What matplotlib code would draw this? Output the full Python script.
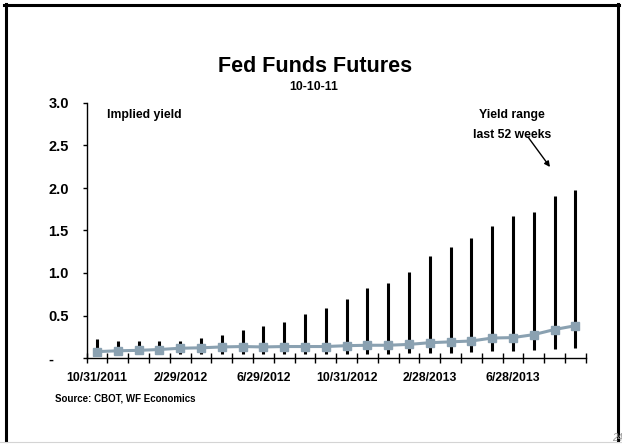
import numpy as np
import matplotlib
matplotlib.use('Agg')
import matplotlib.pyplot as plt
from matplotlib.lines import Line2D

# ── Dati ─────────────────────────────────────────────────────
dates = [
    "10/31/2011", "11/30/2011", "12/30/2011", "1/31/2012",
    "2/29/2012", "3/30/2012", "4/30/2012", "5/31/2012",
    "6/29/2012", "7/31/2012", "8/31/2012", "9/28/2012",
    "10/31/2012", "11/30/2012", "12/31/2012", "1/31/2013",
    "2/28/2013", "3/28/2013", "4/30/2013", "5/31/2013",
    "6/28/2013", "7/31/2013", "8/30/2013", "9/30/2013",
]
implied_yield = [0.075, 0.085, 0.09, 0.10, 0.115, 0.12, 0.13, 0.135,
                 0.13, 0.135, 0.135, 0.135, 0.145, 0.15, 0.15, 0.16,
                 0.18, 0.19, 0.20, 0.235, 0.24, 0.275, 0.335, 0.38]
range_high = [0.22, 0.20, 0.205, 0.20, 0.205, 0.23, 0.27, 0.33,
              0.375, 0.42, 0.52, 0.59, 0.69, 0.82, 0.88, 1.015,
              1.20, 1.305, 1.41, 1.555, 1.665, 1.72, 1.91, 1.98]
range_low = [0.06, 0.06, 0.06, 0.05, 0.05, 0.045, 0.045, 0.045,
             0.045, 0.045, 0.045, 0.045, 0.05, 0.05, 0.05, 0.06,
             0.06, 0.06, 0.07, 0.08, 0.08, 0.10, 0.11, 0.12]
y_ticks = [0.0, 0.5, 1.0, 1.5, 2.0, 2.5, 3.0]
y_tick_labels = ["-", "0.5", "1.0", "1.5", "2.0", "2.5", "3.0"]
LABEL_EVERY = 4

# ── Stile ────────────────────────────────────────────────────
W, H = 622, 444
LINE_COLOR = '#8aa1b1'
plt.rcParams['font.family'] = ['Liberation Sans', 'DejaVu Sans']
plt.rcParams['font.weight'] = 'bold'


def px(x, y):
    """pixel (dall'alto a sinistra) -> coordinate figura"""
    return x / W, 1 - y / H


fig = plt.figure(figsize=(W / 100, H / 100), dpi=100)
ax = fig.add_axes([86.7 / W, 1 - 358 / H, (585.7 - 86.7) / W, (358 - 103) / H])

x = np.arange(len(dates))

# barre del range a 52 settimane
ax.vlines(x, range_low, range_high, colors='black', linewidth=2.2, zorder=2)
# rendimento implicito
ax.plot(x, implied_yield, color=LINE_COLOR, linewidth=2.2, marker='s',
        markersize=6, markerfacecolor=LINE_COLOR, markeredgecolor=LINE_COLOR,
        zorder=3, clip_on=False)

ax.set_xlim(-0.5, len(dates) - 0.5)
ax.set_ylim(0, 3.0)

for side in ('top', 'right'):
    ax.spines[side].set_visible(False)
for side in ('left', 'bottom'):
    ax.spines[side].set_linewidth(1)
    ax.spines[side].set_color('black')

# asse x: etichette ogni 4 mesi, tacche ai confini delle categorie
ax.set_xticks(x[::LABEL_EVERY])
ax.set_xticklabels(dates[::LABEL_EVERY], fontsize=8.8, fontweight='bold')
ax.set_xticks(np.arange(len(dates) + 1) - 0.5, minor=True)
ax.tick_params(axis='x', which='major', length=0, pad=10)
ax.tick_params(axis='x', which='minor', direction='inout', length=7, width=1)

# asse y
ax.set_yticks(y_ticks)
ax.set_yticklabels(y_tick_labels, fontsize=10.5, fontweight='bold')
ax.tick_params(axis='y', direction='out', length=3, width=1, pad=24.5)
for lab in ax.get_yticklabels():
    lab.set_horizontalalignment('left')

# titoli e note
fig.text(*px(315, 71.7), "Fed Funds Futures", ha='center', va='baseline',
         fontsize=15.5, fontweight='bold')
fig.text(*px(314, 90), "10-10-11", ha='center', va='baseline',
         fontsize=8.8, fontweight='bold')
fig.text(*px(107, 118), "Implied yield", ha='left', va='baseline',
         fontsize=8.8, fontweight='bold')
fig.text(*px(512, 118), "Yield range", ha='center', va='baseline',
         fontsize=8.8, fontweight='bold')
fig.text(*px(512, 138), "last 52 weeks", ha='center', va='baseline',
         fontsize=8.8, fontweight='bold')
ax.annotate("", xy=(550, H - 167), xytext=(528, H - 137),
            xycoords='figure pixels', textcoords='figure pixels',
            arrowprops=dict(arrowstyle='-|>', color='black', lw=1,
                            mutation_scale=8, shrinkA=0, shrinkB=0))
fig.text(*px(55, 401.7), "Source: CBOT, WF Economics", ha='left',
         va='baseline', fontsize=7, fontweight='bold')
fig.text(*px(612, 441), "24", ha='left', va='baseline', fontsize=7,
         fontweight='normal', style='italic', color='#9a9a9a')

# cornice della slide
lw_frame = 2.2
fig.add_artist(Line2D([5.5 / W, 5.5 / W], [1 - 4 / H, 1 - 441 / H],
                      transform=fig.transFigure, color='black', lw=lw_frame))
fig.add_artist(Line2D([4 / W, 619 / W], [1 - 5.5 / H, 1 - 5.5 / H],
                      transform=fig.transFigure, color='black', lw=lw_frame))
fig.add_artist(Line2D([617.5 / W, 617.5 / W], [1 - 4 / H, 1 - 441 / H],
                      transform=fig.transFigure, color='black', lw=lw_frame))
fig.add_artist(Line2D([0, 1], [1 - 441.5 / H, 1 - 441.5 / H],
                      transform=fig.transFigure, color='#d4d4d4', lw=0.8))

fig.savefig('out.png', dpi=100)
